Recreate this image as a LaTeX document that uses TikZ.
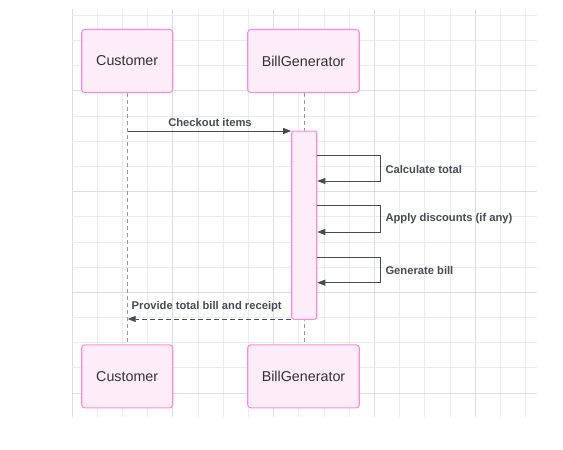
\documentclass[tikz,border=0pt]{standalone}
\usepackage{fontspec}
\setmainfont{Liberation Sans}
\usetikzlibrary{arrows.meta}
\definecolor{gridminor}{HTML}{EBEBEB}
\definecolor{gridmajor}{HTML}{DDDDDD}
\definecolor{boxfill}{HTML}{FDEDF8}
\definecolor{boxline}{HTML}{FF8ADB}
\definecolor{arrowc}{HTML}{474B55}
\definecolor{txt}{HTML}{333333}
\tikzset{
  actor/.style={draw=boxline, fill=boxfill, line width=1.1pt, rounded corners=3pt, minimum width=91pt, minimum height=63pt, inner sep=0pt, text=txt, font=\fontsize{14.3}{16}\selectfont},
  actor2/.style={actor, minimum width=111.5pt},
  lifeline/.style={draw=gray!80, line width=0.9pt, dash pattern=on 4pt off 3pt},
  msg/.style={draw=arrowc, line width=0.8pt, -{Triangle[length=8pt,width=6pt]}},
  ret/.style={msg, dash pattern=on 5pt off 3pt},
  lbl/.style={text=arrowc, font=\bfseries\fontsize{11.2}{13}\selectfont, inner sep=0pt},
}
\begin{document}
\begin{tikzpicture}[x=1pt,y=-1pt]
\useasboundingbox (0,0) rectangle (563,450);
% grid
\begin{scope}
\clip (72,9) rectangle (537,417);
\foreach \k in {0,...,18} {
  \pgfmathsetmacro{\xx}{72+25.2*\k}
  \pgfmathtruncatemacro{\m}{mod(\k,4)}
  \ifnum\m=0 \draw[gridmajor, line width=1pt] (\xx,9) -- (\xx,417);
  \else \draw[gridminor, line width=0.8pt] (\xx,9) -- (\xx,417); \fi
}
\foreach \k in {1,...,17} {
  \pgfmathsetmacro{\yy}{-9.7+25.17*\k}
  \pgfmathtruncatemacro{\m}{mod(\k,4)}
  \ifnum\m=0 \draw[gridmajor, line width=1pt] (72,\yy) -- (537,\yy);
  \else \draw[gridminor, line width=0.8pt] (72,\yy) -- (537,\yy); \fi
}
\end{scope}
% actors
\node[actor] (cust) at (127.2,61) {Customer};
\node[actor2] (bill) at (303.5,61) {BillGenerator};
\node[actor] (cust2) at (127.2,376.3) {Customer};
\node[actor2] (bill2) at (303.5,376.3) {BillGenerator};
% lifelines
\draw[lifeline] (cust.south -| 127.7,0) -- (cust2.north -| 127.7,0);
\draw[lifeline] (bill.south -| 304.3,0) -- (bill2.north -| 304.3,0);
% activation
\node[draw=boxline, fill=boxfill, line width=1.1pt, rounded corners=2.5pt, minimum width=25pt, minimum height=188.3pt, inner sep=0pt] (act) at (304.2,225.2) {};
% coordinates
\coordinate (c1) at (127.7,131);
\coordinate (c2) at (127.7,319);
\coordinate (s1a) at (380,155.7);
\coordinate (s1b) at (380,181);
\coordinate (s2a) at (380,205.7);
\coordinate (s2b) at (380,232);
\coordinate (s3a) at (380,257);
\coordinate (s3b) at (380,282.7);
% messages
\draw[msg] (c1) -- (c1 -| act.west);
\node[lbl] at (210,122) {Checkout items};
\draw[msg] (act.east |- s1a) -- (s1a) -- (s1b) -- (act.east |- s1b);
\node[lbl, anchor=west] at (385.3,169) {Calculate total};
\draw[msg] (act.east |- s2a) -- (s2a) -- (s2b) -- (act.east |- s2b);
\node[lbl, anchor=west] at (385.3,219) {Apply discounts (if any)};
\draw[msg] (act.east |- s3a) -- (s3a) -- (s3b) -- (act.east |- s3b);
\node[lbl, anchor=west] at (385.3,270) {Generate bill};
\draw[ret] (act.west |- c2) -- (c2);
\node[lbl, anchor=west] at (131.5,306.5) {Provide total bill and receipt};
\end{tikzpicture}
\end{document}
